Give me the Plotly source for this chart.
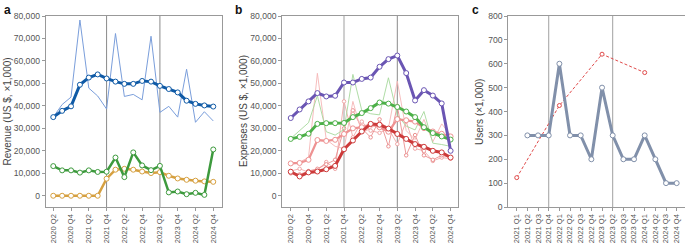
import plotly.graph_objects as go

quarters_ab = ["2020 Q2", "2020 Q3", "2020 Q4", "2021 Q1", "2021 Q2", "2021 Q3", "2021 Q4",
               "2022 Q1", "2022 Q2", "2022 Q3", "2022 Q4", "2023 Q1", "2023 Q2", "2023 Q3",
               "2023 Q4", "2024 Q1", "2024 Q2", "2024 Q3", "2024 Q4"]
quarters_c = quarters_ab[3:]

# Panel a – revenue
rev_total_avg = [35000, 37800, 39800, 49400, 52600, 54000, 52200, 50800, 49800, 49800,
                 51100, 50800, 48900, 47500, 46000, 42300, 40900, 40200, 39700]
rev_total_raw = [35000, 40600, 43900, 78200, 47900, 44400, 38600, 72200, 44200, 45100,
                 42700, 71000, 37100, 39800, 35000, 56300, 32700, 37400, 33300]
rev_green = [13200, 11300, 11300, 10300, 11300, 10600, 10700, 17000, 8300, 19300,
             13500, 11400, 13300, 1500, 1900, 700, 1300, 400, 20600]
rev_orange = [0, 0, 0, 0, 0, 0, 7600, 11600, 12000, 11600, 10800, 10100, 10500, 8900,
              7700, 7100, 6700, 6400, 6200]

# Panel b – expenses
exp_purple = [34600, 38400, 42000, 45700, 44200, 44500, 50400, 50400, 52000, 52600,
              57400, 60800, 62400, 54600, 42400, 47000, 44600, 41100, 20000]
exp_green = [25300, 26200, 27600, 32000, 32300, 32300, 32400, 35000, 36800, 39000,
             41500, 41000, 39500, 37500, 35000, 30500, 27900, 26400, 25000]
exp_green_raw = [25500, 29000, 32500, 44500, 28500, 27000, 29500, 54000, 38000, 36500,
                 36000, 52500, 36000, 31000, 29300, 37500, 23400, 22800, 22000]
exp_pink = [14400, 14600, 16000, 24800, 24400, 24900, 27500, 30000, 30500, 31800,
            30500, 28500, 34100, 33600, 33000, 30100, 28600, 27600, 26400]
exp_red = [10700, 8600, 10400, 10800, 11800, 13300, 20700, 24600, 28600, 32000,
           31600, 29900, 27500, 25300, 23000, 21800, 20000, 19300, 17000]
exp_thin1 = [14000, 15000, 17000, 54500, 25000, 22000, 21000, 42000, 28000, 30000,
             33000, 30000, 51000, 29000, 25000, 34000, 24000, 32000, 27000]
exp_thin2 = [10000, 9500, 11000, 12000, 14000, 16000, 30000, 38000, 30000, 26000,
             34000, 22000, 40000, 18000, 27000, 18000, 16000, 18000, 17000]
exp_thin3 = [11000, 12000, 10500, 11500, 15000, 12000, 42000, 26000, 33000, 29000,
             28000, 30000, 23000, 33000, 21000, 20000, 15500, 17000, 16500]

# Panel c – users
users_q = ["2021 Q2", "2021 Q3", "2021 Q4", "2022 Q1", "2022 Q2", "2022 Q3", "2022 Q4",
           "2023 Q1", "2023 Q2", "2023 Q3", "2023 Q4", "2024 Q1", "2024 Q2", "2024 Q3", "2024 Q4"]
users = [300, 300, 300, 600, 300, 300, 200, 500, 300, 200, 200, 300, 200, 100, 100]
users_year_q = ["2021 Q1", "2022 Q1", "2023 Q1", "2024 Q1"]
users_year = [123, 425, 640, 563]

yticks_money = [0, 10000, 20000, 30000, 40000, 50000, 60000, 70000, 80000]
yticks_users = [0, 100, 200, 300, 400, 500, 600, 700, 800]
vlines = ["2021 Q4", "2023 Q2"]
titles = ["Revenue (US $, ×1,000)", "Expenses (US $, ×1,000)", "Users (×1,000)"]
panel_letters = ["a", "b", "c"]

fig = go.Figure()


def line(x, y, color, width, xa, ya, marker=True, msize=5, dash=None, opacity=1.0):
    fig.add_trace(go.Scatter(
        x=x, y=y, xaxis=xa, yaxis=ya, mode="lines+markers" if marker else "lines",
        line=dict(color=color, width=width, dash=dash),
        marker=dict(size=msize, color="white", line=dict(color=color, width=1)),
        opacity=opacity, showlegend=False, hoverinfo="skip", cliponaxis=False))


# a
line(quarters_ab, rev_total_raw, "#7a9edb", 1.0, "x", "y", marker=False)
line(quarters_ab, rev_orange, "#d6a040", 2.5, "x", "y")
line(quarters_ab, rev_green, "#3d9a3d", 2.5, "x", "y")
line(quarters_ab, rev_total_avg, "#0f5aa6", 3, "x", "y")

# b
line(quarters_ab, exp_thin3, "#f0a8a8", 0.9, "x2", "y2", msize=3.5)
line(quarters_ab, exp_thin2, "#eb9090", 0.9, "x2", "y2", msize=3.5)
line(quarters_ab, exp_thin1, "#f5b5b5", 0.9, "x2", "y2", marker=False)
line(quarters_ab, exp_green_raw, "#a6d89c", 0.9, "x2", "y2", marker=False)
line(quarters_ab, exp_pink, "#ee9292", 2.2, "x2", "y2")
line(quarters_ab, exp_red, "#cd3a3a", 3, "x2", "y2")
line(quarters_ab, exp_green, "#4cb048", 3, "x2", "y2")
line(quarters_ab, exp_purple, "#6a55b3", 3, "x2", "y2")

# c
line(users_year_q, users_year, "#e04a4a", 1.0, "x3", "y3", msize=4, dash="3px,2px")
line(users_q, users, "#8190aa", 3, "x3", "y3")

FONT = "Liberation Sans, Arial, sans-serif"
ytickfont = dict(family=FONT, size=8.6, color="#555")
xtickfont = dict(family=FONT, size=7.6, color="#555")
axis_common = dict(showline=True, linecolor="#999", linewidth=1, mirror=True, ticks="outside",
                   ticklen=3, tickcolor="#999", showgrid=False, zeroline=False, automargin=False)
xcommon = dict(axis_common, tickfont=xtickfont, tickangle=-90, type="category",
               categoryorder="array")
ycommon = dict(axis_common, tickfont=ytickfont, domain=[0, 1])
tfont = dict(size=10, color="#444", family=FONT)

W = 685.0
fig.update_layout(
    width=685, height=243, margin=dict(l=0, r=0, t=16, b=36, autoexpand=False),
    plot_bgcolor="white", paper_bgcolor="white",
    font=dict(family=FONT, color="#444"),
    xaxis=dict(domain=[45.7 / W, 221.7 / W], categoryarray=quarters_ab, range=[-0.85, 18.95],
               anchor="y", **xcommon),
    yaxis=dict(range=[-5000, 80000], tickvals=yticks_money, tickformat=",d", anchor="x", **ycommon),
    xaxis2=dict(domain=[282.3 / W, 457.7 / W], categoryarray=quarters_ab, range=[-0.95, 18.8],
                anchor="y2", **xcommon),
    yaxis2=dict(range=[-5000, 80000], tickvals=yticks_money, tickformat=",d", anchor="x2", **ycommon),
    xaxis3=dict(domain=[508.3 / W, 1.0], categoryarray=quarters_c, range=[-0.79, 15.78],
                anchor="y3", **xcommon),
    yaxis3=dict(range=[0, 800], tickvals=yticks_users, anchor="x3", **ycommon),
)

shapes = []
for xa, ya, cols in [("x", "y", ["#8a8a8a", "#8a8a8a"]), ("x2", "y2", ["#cfcfcf", "#8a8a8a"]),
                     ("x3", "y3", ["#a0a0a0", "#a0a0a0"])]:
    for q, c in zip(vlines, cols):
        shapes.append(dict(type="line", xref=xa, yref=ya + " domain", x0=q, x1=q, y0=0, y1=1,
                           line=dict(color=c, width=2 if c == "#cfcfcf" else 1), layer="below"))
fig.update_layout(shapes=shapes)

for txt, x in zip(panel_letters, [2, 233, 470]):
    fig.add_annotation(text="<b>%s</b>" % txt, xref="paper", yref="paper", x=x / W, y=1,
                       yshift=15, xanchor="left", yanchor="top", showarrow=False,
                       font=dict(size=12, color="#111", family=FONT))

for txt, x in zip(titles, [7, 243.5, 479.5]):
    fig.add_annotation(text=txt, xref="paper", yref="paper", x=x / W, y=0.5, textangle=-90,
                       xanchor="center", yanchor="middle", showarrow=False, font=tfont)

fig.write_html("out.html", config={"displayModeBar": False},
               post_script="document.body.style.margin='0px';")
